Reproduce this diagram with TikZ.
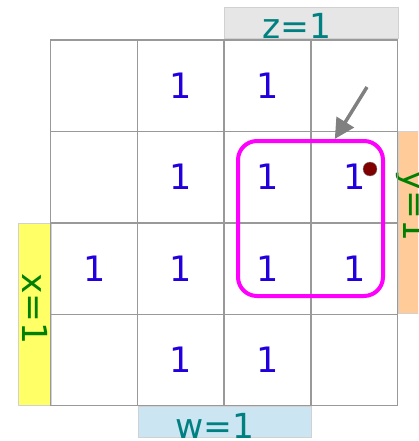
\documentclass[tikz,border=0pt]{standalone}
\usepackage{fontspec}
\setmainfont{DejaVu Sans}
\usetikzlibrary{arrows.meta}
\definecolor{onesblue}{HTML}{2200DD}
\definecolor{labelteal}{HTML}{008080}
\definecolor{labelgreen}{HTML}{008000}
\definecolor{zfill}{HTML}{E6E6E6}
\definecolor{yfill}{HTML}{FFCC99}
\definecolor{xfill}{HTML}{FFFF66}
\definecolor{wfill}{HTML}{CCE5F2}
\definecolor{gridgray}{HTML}{999999}
\definecolor{dotred}{HTML}{800000}
\definecolor{loopmagenta}{HTML}{FF00FF}
\begin{document}
\begin{tikzpicture}[
  x=1pt, y=-1pt,
  cellbox/.style={draw=gridgray, line width=1.3pt, minimum width=87pt, minimum height=91.5pt, inner sep=0pt, text=onesblue, font=\fontsize{35}{40}\selectfont},
  varband/.style={draw=black!18, line width=1pt, inner sep=0pt},
  varlabel/.style={inner sep=0pt, font=\fontsize{34.5}{40}\selectfont},
  loopbox/.style={draw=loopmagenta, line width=4pt, rounded corners=19pt, minimum width=145pt, minimum height=155pt, inner sep=0pt},
  >=Triangle
]
\useasboundingbox (0,0) rectangle (418,441);
\clip (0,0) rectangle (418,441);

% Variable bands
\node[varband, fill=zfill, minimum width=174pt, minimum height=31pt] (zband) at (311,23.5) {};
\node[varband, fill=yfill, minimum width=37pt, minimum height=182pt] (yband) at (416.5,222) {};
\node[varband, fill=xfill, minimum width=33pt, minimum height=182pt] (xband) at (34.5,314) {};
\node[varband, fill=wfill, minimum width=173pt, minimum height=31pt] (wband) at (224.5,421.5) {};

\node[varlabel, text=labelteal, anchor=base west] (zlab) at (262,39) {z=1};
\node[varlabel, text=labelgreen, rotate=-90, anchor=base west] (ylab) at (403,170) {y=1};
\node[varlabel, text=labelgreen, rotate=-90, anchor=base west] (xlab) at (22,273) {x=1};
\node[varlabel, text=labelteal, anchor=base west] (wlab) at (175,438) {w=1};

% Karnaugh map cells
\node[cellbox] (c11) at (94.2,85.9) {};
\node[cellbox] (c12) at (181,85.9) {1};
\node[cellbox] (c13) at (267.5,85.9) {1};
\node[cellbox] (c14) at (354.2,85.9) {};

\node[cellbox] (c21) at (94.2,177.2) {};
\node[cellbox] (c22) at (181,177.2) {1};
\node[cellbox] (c23) at (267.5,177.2) {1};
\node[cellbox] (c24) at (354.2,177.2) {1};

\node[cellbox] (c31) at (94.2,268.5) {1};
\node[cellbox] (c32) at (181,268.5) {1};
\node[cellbox] (c33) at (267.5,268.5) {1};
\node[cellbox] (c34) at (354.2,268.5) {1};

\node[cellbox] (c41) at (94.2,360) {};
\node[cellbox] (c42) at (181,360) {1};
\node[cellbox] (c43) at (267.5,360) {1};
\node[cellbox] (c44) at (354.2,360) {};

% Grouping of the four ones
\node[loopbox] (quad) at (310.5,218.5) {};
\node[circle, fill=dotred, draw=gray, line width=0.4pt, minimum size=14pt, inner sep=0pt] (mark) at (370,169) {};

% Pointer
\coordinate (tail) at (367,87);
\draw[->, gray, line width=3.5pt, arrows={-Triangle[length=20pt,width=20pt]}] (tail) -- (quad.73);
\end{tikzpicture}
\end{document}
